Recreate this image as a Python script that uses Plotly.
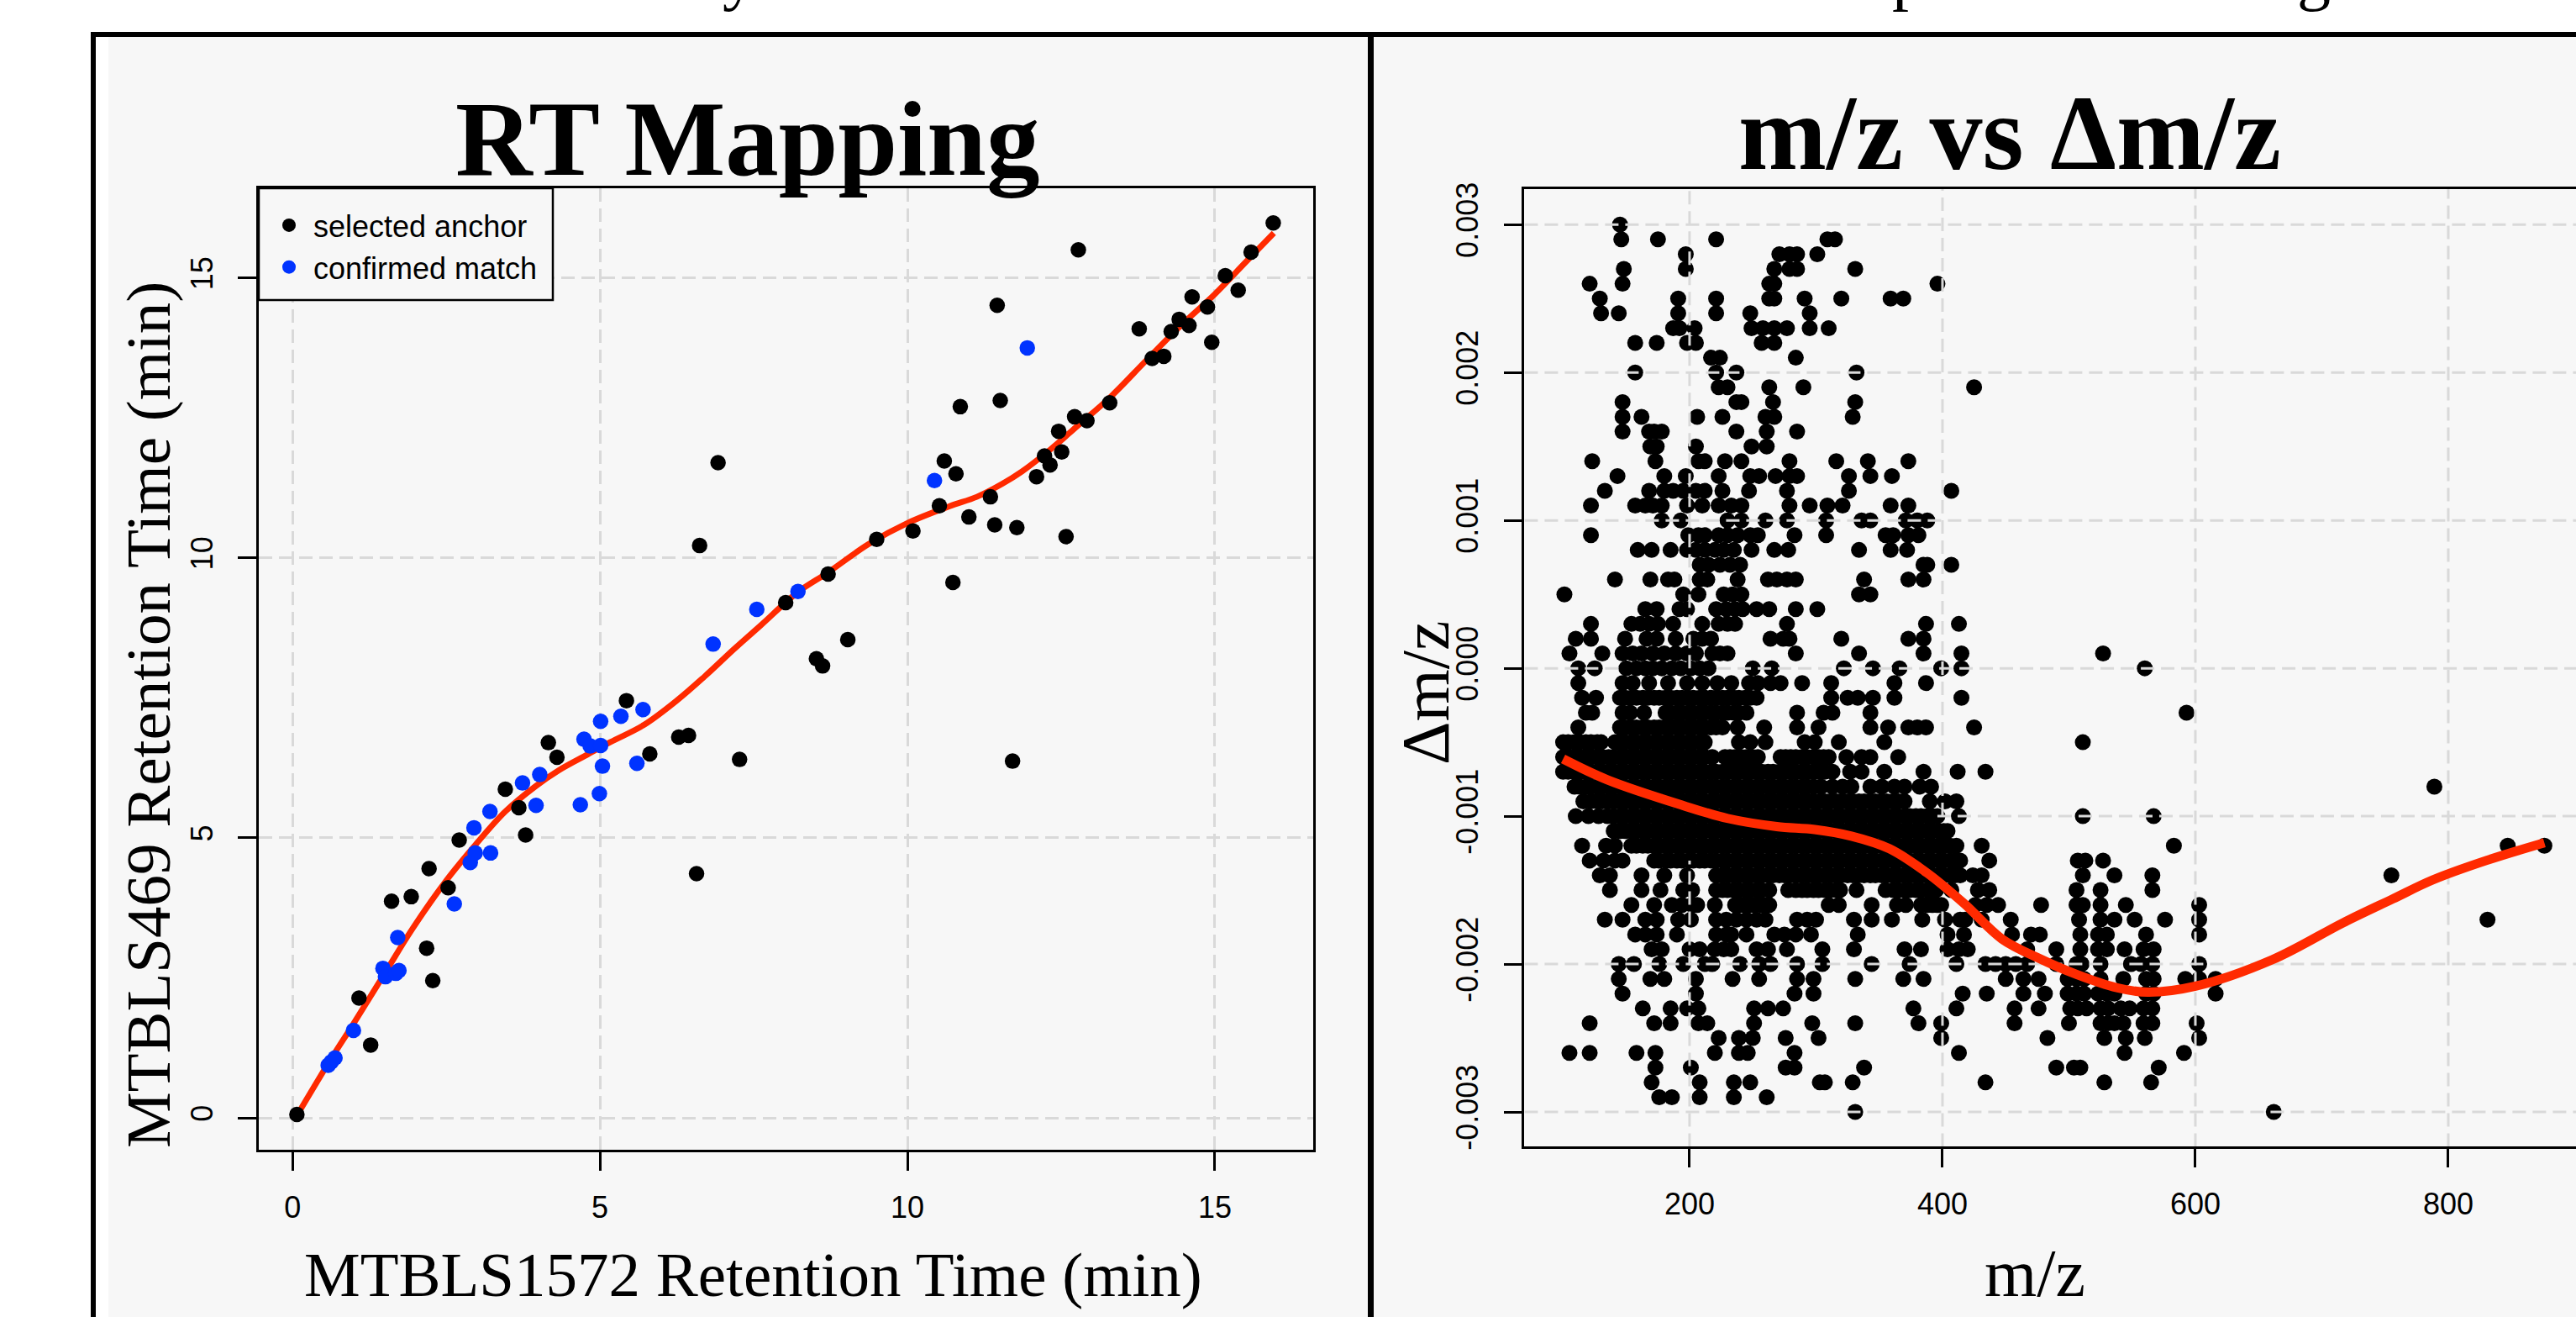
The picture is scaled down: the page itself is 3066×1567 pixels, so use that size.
import plotly.graph_objects as go

W, H = 3066, 1567

# ---------- RT Mapping data ----------
anchor_x = [0.07,1.08,1.27,1.61,1.93,2.22,2.18,2.28,2.53,2.71,3.46,3.68,3.79,4.16,4.30,5.43,5.81,6.28,6.44,6.57,7.27,8.02,8.52,8.62,
            6.62,6.92,8.71,9.03,9.50,10.09,10.52,10.60,10.79,11.00,11.35,11.42,11.78,12.58,12.10,12.23,12.32,12.51,10.74,11.71,
            10.86,11.51,11.46,12.78,12.46,12.72,12.92,13.29,13.98,14.17,13.77,14.29,14.42,14.58,14.63,14.88,14.95,15.17,15.38,15.59,15.95]
anchor_y = [0.06,2.14,1.30,3.87,3.95,4.45,3.03,2.45,4.11,4.96,5.87,5.54,5.05,6.70,6.44,7.45,6.50,6.80,6.83,4.36,6.40,9.20,8.20,8.07,
            10.22,11.70,9.71,8.54,10.33,10.48,10.93,11.73,11.50,10.73,11.09,10.59,10.54,10.38,11.45,11.82,11.66,11.89,9.56,6.37,
            12.70,12.81,14.51,15.50,12.26,12.52,12.45,12.77,13.56,13.60,14.09,14.04,14.26,14.15,14.66,14.48,13.85,15.04,14.78,15.46,15.98]
match_x = [0.58,0.63,0.69,0.99,1.47,1.51,1.68,1.73,1.71,2.63,2.89,2.97,3.22,2.95,3.21,3.96,3.74,4.02,4.68,4.99,5.04,4.74,4.84,5.01,5.01,5.34,5.70,5.60,6.84,7.55,8.22,10.44,11.95]
match_y = [0.94,1.00,1.07,1.56,2.67,2.52,2.58,2.63,3.22,3.82,4.56,4.73,4.73,5.18,5.47,5.58,5.98,6.13,5.59,5.79,6.28,6.76,6.64,6.65,7.08,7.17,7.29,6.33,8.46,9.08,9.40,11.38,13.75]
rt_curve_x = [0.07,0.59,0.99,1.51,1.94,2.48,2.97,3.46,3.95,4.32,4.80,5.17,5.72,6.27,6.70,7.19,7.61,8.22,8.71,9.36,10.00,10.68,11.13,11.54,11.86,12.32,12.77,13.29,13.87,14.41,15.00,15.51,15.96]
rt_curve_y = [0.04,0.99,1.68,2.60,3.36,4.21,4.87,5.47,5.92,6.20,6.49,6.71,7.02,7.47,7.88,8.38,8.79,9.39,9.74,10.24,10.62,10.92,11.09,11.32,11.54,11.93,12.36,12.86,13.51,14.11,14.71,15.29,15.80]
rt_ticks = [0, 5, 10, 15]

# ---------- m/z vs delta m/z data ----------
dmz_ticks = [0.003,0.002,0.001,0.0,-0.001,-0.002,-0.003]
dmz_ticktext = ["0.003","0.002","0.001","0.000","-0.001","-0.002","-0.003"]
mz_ticks = [200,400,600,800]
dmz_levels = [0.0030,0.0029,0.0028,0.0027,0.0026,0.0025,0.0024,0.0023,0.0022,0.0021,0.0020,0.0019,0.0018,0.0017,0.0016,0.0015,
              0.0014,0.0013,0.0012,0.0011,0.0010,0.0009,0.0008,0.0007,0.0006,0.0005,0.0004,0.0003,0.0002,0.0001,0.0,
              -0.0001,-0.0002,-0.0003,-0.0004,-0.0005,-0.0006,-0.0007,-0.0008,-0.0009,-0.0010,-0.0011,-0.0012,-0.0013,-0.0014,-0.0015,
              -0.0016,-0.0017,-0.0018,-0.0019,-0.0020,-0.0021,-0.0022,-0.0023,-0.0024,-0.0025,-0.0026,-0.0027,-0.0028,-0.0029,-0.0030]
mz_rows = [
 [145],
 [146,175,221,309,315],
 [197,271,279,285,301],
 [148,197,267,279,285,331],
 [121,147,263,267,396],
 [129,191,221,263,267,291,320,359,369],
 [130,144,191,221,248,295],
 [187,192,204,249,258,267,277,295,310],
 [157,174,198,205,257,267],
 [217,224,284],
 [157,221,237,332],
 [223,230,263,290,425],
 [147,237,241,266,331],
 [147,162,206,226,260,267,329],
 [147,168,172,178,237,261,285],
 [169,174,205,249,261],
 [123,173,207,212,228,241,279,316,341,373],
 [143,180,197,223,248,255,268,279,285,326,343,360],
 [133,168,180,187,195,205,212,226,247,277,326,407],
 [122,157,165,171,178,198,210,223,233,241,279,295,309,321,359,373],
 [178,193,230,241,260,277,308,336,343,371,380,388],
 [122,199,207,212,223,230,238,248,254,283,308,355,361,373,381],
 [159,170,185,198,205,212,220,227,235,249,267,278,334,359,372],
 [208,215,224,232,240,385,388,407],
 [141,169,183,188,208,214,238,262,269,277,284,338,373,385],
 [101,195,207,227,234,241,334,343],
 [165,174,192,198,221,229,236,242,253,263,284,301],
 [122,154,161,168,175,187,210,223,230,236,277,387,413],
 [110,122,149,166,174,189,203,210,217,264,274,279,320,373,385],
 [105,131,147,155,162,171,180,189,198,205,218,224,230,284,334,385,415,527],
 [112,125,150,158,165,171,178,186,193,201,208,215,250,265,322,345,366,399,415,560],
 [112,147,155,168,183,198,210,222,233,247,254,264,272,289,312,362,387],
 [115,126,145,149,154,158,163,167,172,176,181,185,190,194,199,203,208,212,217,221,226,230,235,239,244,248,253,312,325,333,345,362,415],
 [118,123,147,153,164,181,185,190,194,199,203,208,212,217,221,226,230,235,239,245,285,306,313,343,593],
 [112,145,149,154,158,163,167,172,176,181,185,190,194,199,203,208,212,217,221,226,238,259,285,302,343,357,373,380,387,425],
 [100,104,109,113,118,122,127,130,141,145,149,154,158,163,167,172,176,181,185,190,194,199,203,208,212,239,248,260,291,299,318,354,511],
 [100,104,109,113,118,122,127,131,136,140,145,149,154,158,163,167,172,176,181,185,190,194,199,203,208,212,218,228,232,236,241,245,250,254,272,276,280,284,289,293,298,302,306,310,324,336,343,365],
 [100,104,109,113,118,122,127,131,136,140,145,149,154,158,163,167,172,176,181,185,190,194,199,203,208,212,217,221,226,230,235,239,244,248,253,257,262,266,271,275,280,284,289,293,298,302,307,313,327,336,354,385,412,434],
 [109,113,118,122,127,131,136,140,145,149,154,158,163,167,172,176,181,185,190,194,199,203,208,212,217,221,226,230,235,239,244,248,253,257,262,266,271,275,280,284,289,293,298,304,313,321,328,343,352,362,370,382,391,789],
 [116,122,127,131,136,140,145,149,154,158,163,167,172,176,181,185,190,194,199,203,208,212,217,221,226,230,235,239,244,248,253,257,262,266,271,275,280,284,289,293,298,302,307,311,316,320,325,329,334,338,343,347,352,356,361,365,370,390,402,411],
 [110,120,128,135,140,145,149,154,158,163,167,172,176,181,185,190,194,199,203,208,212,217,221,226,230,235,239,244,248,253,257,262,266,271,275,280,284,289,293,298,302,307,311,316,320,325,329,334,338,343,347,352,356,361,365,370,374,379,383,388,392,396,413,511,567],
 [140,145,149,154,158,163,167,172,176,181,185,190,194,199,203,208,212,217,221,226,230,235,239,244,248,253,257,262,266,271,275,280,284,289,293,298,302,307,311,316,320,325,329,334,338,343,347,352,356,361,365,370,374,379,383,388,392,397,401,404],
 [115,134,141,154,158,163,167,172,176,181,185,190,194,199,203,208,212,217,221,226,230,235,239,244,248,253,257,262,266,271,275,280,284,289,293,298,302,307,311,316,320,325,329,334,338,343,347,352,356,361,365,370,374,379,383,388,392,397,401,406,411,431,583,847,876],
 [121,132,141,147,172,176,181,185,190,194,199,203,208,212,217,221,226,230,235,239,244,248,253,257,262,266,271,275,280,284,289,293,298,302,307,311,316,320,325,329,334,338,343,347,352,356,361,365,370,374,379,383,388,392,397,401,406,410,414,437,507,513,527],
 [129,137,162,180,198,221,226,230,235,239,244,248,253,257,262,266,271,275,280,284,289,293,298,302,307,311,316,320,325,329,334,338,343,347,352,356,361,365,370,374,379,383,388,392,397,401,406,410,414,424,431,511,536,566,755],
 [137,162,177,195,202,221,226,230,235,239,244,248,253,257,263,278,284,289,293,298,302,307,311,316,319,332,355,361,365,370,374,379,383,388,392,395,407,428,437,506,525,566],
 [154,172,186,194,202,206,220,236,240,244,248,252,257,260,263,310,318,344,364,371,383,388,392,396,399,426,435,444,478,506,511,525,545,603],
 [133,147,165,174,191,201,221,229,237,245,253,260,285,293,300,330,344,360,384,402,414,418,431,454,508,525,536,552,576,603,831],
 [157,165,174,190,221,229,233,245,267,275,284,296,333,404,417,455,470,477,509,523,530,561,603],
 [170,178,200,208,220,227,233,253,262,277,305,330,370,383,404,413,420,467,490,509,523,530,544,559,567],
 [144,156,176,195,212,218,240,255,264,285,305,344,374,411,434,442,450,458,467,490,506,510,525,549,557,566,603],
 [144,169,180,205,234,255,285,298,331,369,385,450,464,476,499,506,512,525,543,561,567,592,603,616],
 [147,205,283,298,416,435,464,481,499,506,512,523,530,536,561,567,616],
 [163,185,198,207,251,262,274,377,411,457,476,501,507,514,525,531,541,548,559,566],
 [121,172,185,207,214,251,297,331,381,399,457,500,525,531,536,543,559,566,601],
 [223,239,250,276,302,399,483,528,545,560,603],
 [105,121,158,173,220,239,246,283,413,544,591],
 [173,201,276,283,338,490,504,509,571],
 [170,208,235,248,303,307,329,434,528,565],
 [176,186,208,235,261],
 [331,662],
]
mz_curve_x = [100,135,195,230,269,299,328,358,388,417,447,476,506,538,562,600,661,717,756,788,830,876]
mz_curve_y = [-0.000613,-0.000754,-0.000928,-0.001015,-0.00107,-0.00109,-0.001135,-0.00122,-0.001385,-0.00159,-0.00183,-0.00196,-0.00207,-0.00216,-0.00219,-0.00215,-0.00197,-0.00172,-0.00156,-0.00143,-0.0013,-0.00118]

mz_points_x = [m for row in mz_rows for m in row]
mz_points_y = [lv for lv, row in zip(dmz_levels, mz_rows) for _ in row]

BLACK, BLUE, RED, GRID, PANEL = "#000000", "#0033FF", "#FF2A00", "#D9D9D9", "#F7F7F7"
SERIF, SANS = "Liberation Serif", "Liberation Sans"
DASH = "16px,8px"

def px(x): return x / W
def py(y): return 1 - y / H

fig = go.Figure()
fig.add_trace(go.Scatter(x=rt_curve_x, y=rt_curve_y, mode="lines", line=dict(color=RED, width=7, shape="spline"), showlegend=False, xaxis="x", yaxis="y"))
fig.add_trace(go.Scatter(x=anchor_x, y=anchor_y, mode="markers", name="selected anchor", marker=dict(color=BLACK, size=18.5), xaxis="x", yaxis="y"))
fig.add_trace(go.Scatter(x=match_x, y=match_y, mode="markers", name="confirmed match", marker=dict(color=BLUE, size=18.5), xaxis="x", yaxis="y"))

fig.add_trace(go.Scatter(x=mz_points_x, y=mz_points_y, mode="markers", marker=dict(color=BLACK, size=19), showlegend=False, xaxis="x2", yaxis="y2"))
# the grid runs over the isolated dots, and is hidden inside the solid cloud
XL, XR = 69.4, 901.0
YB, YT = -0.003235, 0.00324
gx, gy = [], []
for t in dmz_ticks:
    if t == 0.0:
        gx += [XL, 146, None, 222, XR, None]; gy += [t, t, None, t, t, None]
    elif t == -0.001:
        gx += [396, XR, None]; gy += [t, t, None]
    else:
        gx += [XL, XR, None]; gy += [t, t, None]
for m, low, high in [(200, 0.0, YT), (200, YB, -0.0013), (400, YB, -0.0016), (400, -0.001, YT), (600, YB, YT), (800, YB, YT)]:
    gx += [m, m, None]; gy += [low, high, None]
fig.add_trace(go.Scatter(x=gx, y=gy, mode="lines", line=dict(color=GRID, width=3, dash=DASH), showlegend=False, hoverinfo="skip", xaxis="x2", yaxis="y2"))
fig.add_trace(go.Scatter(x=mz_curve_x, y=mz_curve_y, mode="lines", line=dict(color=RED, width=11, shape="spline"), showlegend=False, xaxis="x2", yaxis="y2"))

axis_common = dict(showline=True, mirror=True, linecolor="#000000", linewidth=2.5, ticks="outside", ticklen=22, tickwidth=2.5, tickcolor="#000000",
                   showgrid=True, gridcolor=GRID, gridwidth=3, griddash=DASH, zeroline=False, automargin=False,
                   tickfont=dict(family=SANS, size=36, color="#000000"))

def rect(x0, y0, x1, y1, fill, layer="below", line=None):
    return dict(type="rect", xref="paper", yref="paper", x0=px(x0), x1=px(x1), y0=py(y1), y1=py(y0), fillcolor=fill,
                line=line or dict(width=0), layer=layer)

def label(text, x, y, size, bold=False, angle=0, family=SERIF):
    t = f"<b>{text}</b>" if bold else text
    return dict(text=t, xref="paper", yref="paper", x=px(x), y=py(y), xanchor="center", yanchor="middle", showarrow=False, textangle=angle,
                font=dict(family=family, size=size, color="#000000"))

fig.update_layout(
    template="none",
    width=W, height=H, autosize=False, margin=dict(l=0, r=0, t=0, b=0),
    paper_bgcolor="#FFFFFF", plot_bgcolor="rgba(0,0,0,0)", hovermode=False,
    xaxis=dict(axis_common, domain=[px(308), px(1563)], range=[-0.55, 16.6], tickvals=rt_ticks, anchor="y", ticklabelstandoff=13),
    yaxis=dict(axis_common, domain=[py(1368), py(224)], range=[-0.57, 16.6], tickvals=rt_ticks, tickangle=-90, anchor="x", ticklabelstandoff=16),
    xaxis2=dict(axis_common, domain=[px(1814.4), 1], range=[XL, XR], tickvals=mz_ticks, anchor="y2", ticklabelstandoff=13, showgrid=False),
    yaxis2=dict(axis_common, domain=[py(1364.4), py(225)], range=[YB, YT], tickvals=dmz_ticks, ticktext=dmz_ticktext, tickangle=-90, anchor="x2", ticklabelstandoff=16, showgrid=False),
    legend=dict(x=px(315), y=py(238), xanchor="left", yanchor="top", bgcolor="rgba(0,0,0,0)", borderwidth=0, itemwidth=48,
                font=dict(family=SANS, size=36, color="#000000"), itemsizing="trace", traceorder="normal"),
    shapes=[
        rect(129, 44, W, H, PANEL),
        rect(108, 38, 114, H, "#000000"),
        rect(108, 38, W, 44, "#000000"),
        rect(1628, 38, 1635, H, "#000000"),
        rect(308, 224, 658, 357, PANEL, layer="above", line=dict(color="#000000", width=2.5)),
    ],
    annotations=[
        label("RT Mapping", 889, 166, 127, bold=True),
        label("m/z vs Δm/z", 2392, 158, 126, bold=True),
        label("MTBLS1572 Retention Time (min)", 896, 1516, 75),
        label("MTBLS469 Retention Time (min)", 176, 851, 75, angle=-90),
        label("m/z", 2422, 1515, 80),
        label("Δm/z", 1697, 825, 80, angle=-90),
        label("y", 880, -30, 80),
        label("p", 2272, -30, 80),
        label("g", 2754, -30, 80),
    ],
)

fig.write_html("out.html", config=dict(displayModeBar=False),
               post_script="document.body.style.margin='0';document.body.style.overflow='hidden';")
